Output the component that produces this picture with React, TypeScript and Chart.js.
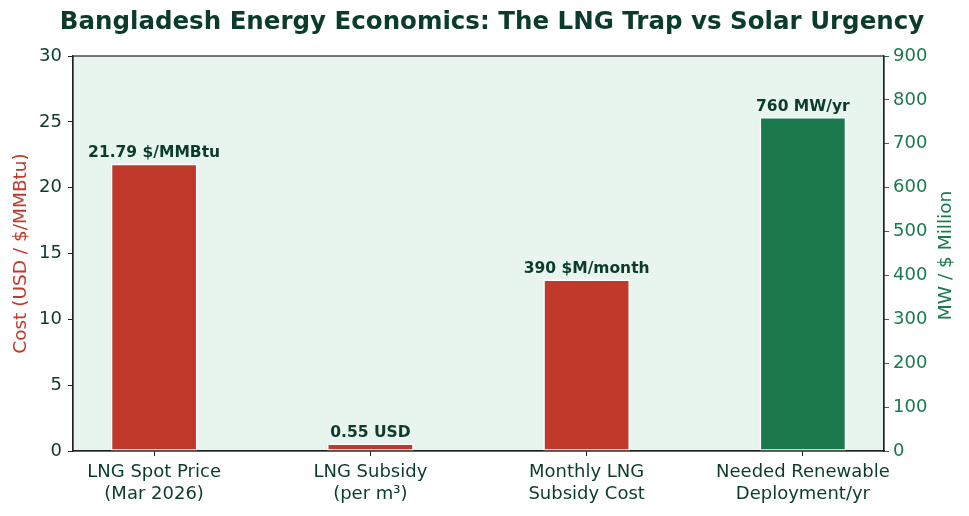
import React, { useEffect, useRef } from "react";
import { Chart, registerables } from "chart.js";

Chart.register(...registerables);

const categories: string[][] = [
  ["LNG Spot Price", "(Mar 2026)"],
  ["LNG Subsidy", "(per m³)"],
  ["Monthly LNG", "Subsidy Cost"],
  ["Needed Renewable", "Deployment/yr"],
];
const costValues = [21.79, 0.55];
const costPositions = [0, 1];
const mwValues = [390, 760];
const mwPositions = [2, 3];
const barLabels = ["21.79 $/MMBtu", "0.55 USD", "390 $M/month", "760 MW/yr"];
const costColors = ["#c0392b", "#c0392b"];
const mwColors = ["#c0392b", "#1a7a4c"];

const TITLE = "Bangladesh Energy Economics: The LNG Trap vs Solar Urgency";
const DARK = "#0b3b2c";
const GREEN = "#1a7a4c";
const RED = "#c0392b";
const FONT = "'DejaVu Sans', sans-serif";

export default function App() {
  const ref = useRef<HTMLCanvasElement>(null);
  useEffect(() => {
    document.body.style.margin = "0";
    const canvas = ref.current!;
    const decor = {
      id: "decor",
      beforeDraw(chart: any) {
        const { ctx, chartArea: a } = chart;
        ctx.save();
        ctx.fillStyle = "#e8f4ee";
        ctx.fillRect(a.left, a.top, a.right - a.left, a.bottom - a.top);
        ctx.restore();
      },
      afterDraw(chart: any) {
        const { ctx, chartArea: a } = chart;
        ctx.save();
        ctx.strokeStyle = "#222";
        ctx.lineWidth = 1.2;
        ctx.strokeRect(a.left, a.top, a.right - a.left, a.bottom - a.top);
        // title
        ctx.fillStyle = DARK;
        ctx.font = `bold 24.5px ${FONT}`;
        ctx.textAlign = "center";
        ctx.textBaseline = "middle";
        ctx.fillText(TITLE, 492, 23);
        // axis titles
        ctx.font = `18.5px ${FONT}`;
        ctx.save();
        ctx.translate(21, (a.top + a.bottom) / 2);
        ctx.rotate(-Math.PI / 2);
        ctx.fillStyle = RED;
        ctx.fillText("Cost (USD / $/MMBtu)", 0, 0);
        ctx.restore();
        ctx.save();
        ctx.translate(946, (a.top + a.bottom) / 2 + 2);
        ctx.rotate(-Math.PI / 2);
        ctx.fillStyle = GREEN;
        ctx.fillText("MW / $ Million", 0, 0);
        ctx.restore();
        // bar labels
        ctx.font = `bold 15.5px ${FONT}`;
        ctx.fillStyle = DARK;
        ctx.textBaseline = "bottom";
        let k = 0;
        chart.data.datasets.forEach((ds: any, di: number) => {
          const meta = chart.getDatasetMeta(di);
          meta.data.forEach((bar: any) => {
            ctx.fillText(barLabels[k], bar.x, bar.y - 3);
            k++;
          });
        });
        ctx.restore();
      },
    };
    const chart = new Chart(canvas, {
      type: "bar",
      data: {
        datasets: [
          {
            data: costValues.map((v, i) => ({ x: costPositions[i], y: v })),
            backgroundColor: costColors,
            borderColor: "#ffffff",
            borderWidth: 1.5,
            borderSkipped: false,
            barThickness: 86,
            grouped: false,
            yAxisID: "y",
          } as any,
          {
            data: mwValues.map((v, i) => ({ x: mwPositions[i], y: v })),
            backgroundColor: mwColors,
            borderColor: "#ffffff",
            borderWidth: 1.5,
            borderSkipped: false,
            barThickness: 86,
            grouped: false,
            yAxisID: "y1",
          } as any,
        ],
      },
      options: {
        animation: false,
        responsive: false,
        layout: { padding: { top: 56, left: 0, right: 0, bottom: 0 } },
        plugins: { legend: { display: false }, tooltip: { enabled: false } },
        scales: {
          x: {
            type: "linear",
            offset: false,
            min: -0.375,
            max: 3.375,
            afterBuildTicks: (s: any) => {
              s.ticks = [0, 1, 2, 3].map((v) => ({ value: v }));
            },
            afterFit: (s: any) => {
              s.height = 65;
            },
            ticks: {
              callback: (v: any) => categories[Math.round(Number(v))] ?? "",
              color: DARK,
              font: { family: FONT, size: 18, lineHeight: 1.2 },
              padding: 6,
              maxRotation: 0,
              autoSkip: false,
            },
            grid: { offset: false, drawOnChartArea: false, tickLength: 5, tickColor: "#222" },
            border: { color: "#222", width: 1.2 },
          },
          y: {
            position: "left",
            min: 0,
            max: 30,
            ticks: { stepSize: 5, color: DARK, font: { family: FONT, size: 18 }, padding: 6 },
            afterFit: (s: any) => {
              s.width = 73;
            },
            grid: { drawOnChartArea: false, tickLength: 5, tickColor: "#222" },
            border: { color: "#222", width: 1.2 },
          },
          y1: {
            position: "right",
            min: 0,
            max: 900,
            ticks: { stepSize: 100, color: GREEN, font: { family: FONT, size: 18 }, padding: 4 },
            afterFit: (s: any) => {
              s.width = 85;
            },
            grid: { drawOnChartArea: false, tickLength: 5, tickColor: GREEN },
            border: { color: "#222", width: 1.2 },
          },
        },
      } as any,
      plugins: [decor],
    });
    return () => chart.destroy();
  }, []);
  return (
    <div style={{ width: 969, height: 516 }}>
      <canvas ref={ref} width={969} height={516} style={{ display: "block" }} />
    </div>
  );
}
